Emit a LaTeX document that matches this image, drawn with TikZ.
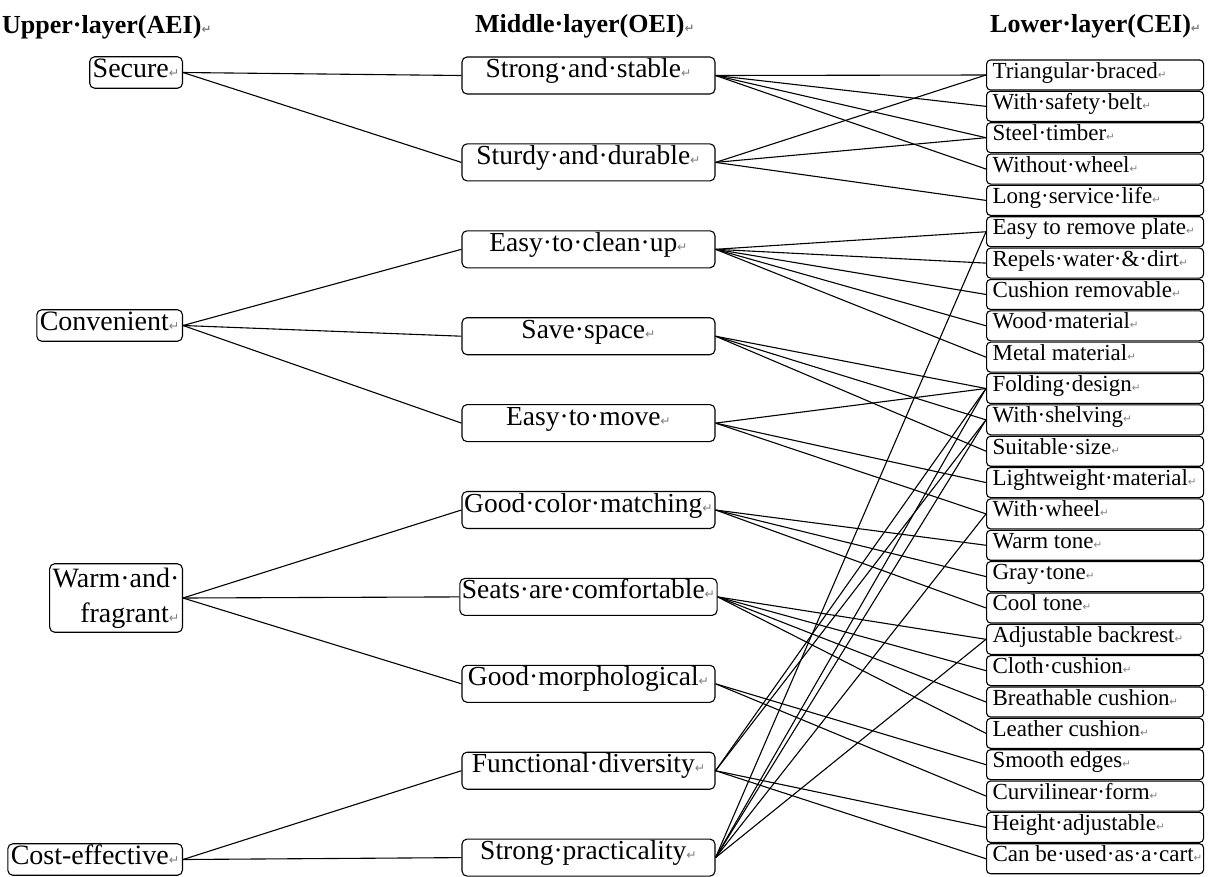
\documentclass[tikz,border=0pt]{standalone}
\usepackage{fontspec}
\setmainfont{Liberation Serif}
\newfontfamily\symfont{DejaVu Sans}
\newcommand\ret{{\symfont\color{gray}\scalebox{0.45}{↵}}}
\newcommand\ltxt[1]{\makebox[205pt][l]{#1\ret}}
\begin{document}
\begin{tikzpicture}[x=1pt,y=-1pt,
  ubox/.style={draw, line width=1.1pt, rounded corners=5pt, font=\fontsize{28}{35}\selectfont, inner xsep=3pt, inner ysep=2pt, anchor=east},
  usingle/.style={ubox, text height=18.5pt, text depth=9pt},
  mbox/.style={draw, line width=1.1pt, rounded corners=5pt, font=\fontsize{27.5}{33}\selectfont, minimum width=253pt, inner xsep=2pt, inner ysep=1.5pt, text height=19pt, text depth=15pt},
  lbox/.style={draw, line width=1.1pt, rounded corners=4pt, font=\fontsize{23}{27}\selectfont, minimum width=217pt, inner xsep=5pt, inner ysep=2pt, text height=16pt, text depth=10pt, anchor=west},
  hdr/.style={font=\bfseries\fontsize{26}{30}\selectfont, inner sep=0pt, anchor=base west},
  link/.style={line width=1.1pt}]
\useasboundingbox (0,0) rectangle (1229,876);

% headers
\node[hdr] (h1) at (2,33) {Upper·layer(AEI)\ret};
\node[hdr] (h2) at (475,32) {Middle·layer(OEI)\ret};
\node[hdr] (h3) at (990,32) {Lower·layer(CEI)\ret};

% upper layer
\node[usingle] (u1) at (183,72.5) {Secure\ret};
\node[usingle] (u2) at (183,325.5) {Convenient\ret};
\node[ubox, align=right, inner ysep=4pt] (u3) at (183,598) {Warm·and·\\fragrant\ret};
\node[usingle] (u4) at (183,859.5) {Cost-effective\ret};

% middle layer
\node[mbox] (m1) at (588.5,75.5) {Strong·and·stable\ret};
\node[mbox] (m2) at (588.5,162.4) {Sturdy·and·durable\ret};
\node[mbox] (m3) at (588.5,249.3) {Easy·to·clean·up\ret};
\node[mbox] (m4) at (588.5,336.2) {Save·space\ret};
\node[mbox] (m5) at (588.5,423.1) {Easy·to·move\ret};
\node[mbox] (m6) at (588.5,510) {Good·color·matching\ret};
\node[mbox] (m7) at (588.5,596.9) {Seats·are·comfortable\ret};
\node[mbox] (m8) at (588.5,683.8) {Good·morphological\ret};
\node[mbox] (m9) at (588.5,770.7) {Functional·diversity\ret};
\node[mbox] (m10) at (588.5,857.6) {Strong·practicality\ret};

% lower layer
\node[lbox] (l0) at (986,75) {\ltxt{Triangular·braced}};
\node[lbox] (l1) at (986,106.35) {\ltxt{With·safety·belt}};
\node[lbox] (l2) at (986,137.7) {\ltxt{Steel·timber}};
\node[lbox] (l3) at (986,169.05) {\ltxt{Without·wheel}};
\node[lbox] (l4) at (986,200.4) {\ltxt{Long·service·life}};
\node[lbox] (l5) at (986,231.75) {\ltxt{Easy to remove plate}};
\node[lbox] (l6) at (986,263.1) {\ltxt{Repels·water·\&·dirt}};
\node[lbox] (l7) at (986,294.45) {\ltxt{Cushion removable}};
\node[lbox] (l8) at (986,325.8) {\ltxt{Wood·material}};
\node[lbox] (l9) at (986,357.15) {\ltxt{Metal material}};
\node[lbox] (l10) at (986,388.5) {\ltxt{Folding·design}};
\node[lbox] (l11) at (986,419.85) {\ltxt{With·shelving}};
\node[lbox] (l12) at (986,451.2) {\ltxt{Suitable·size}};
\node[lbox] (l13) at (986,482.55) {\ltxt{Lightweight·material}};
\node[lbox] (l14) at (986,513.9) {\ltxt{With·wheel}};
\node[lbox] (l15) at (986,545.25) {\ltxt{Warm tone}};
\node[lbox] (l16) at (986,576.6) {\ltxt{Gray·tone}};
\node[lbox] (l17) at (986,607.95) {\ltxt{Cool tone}};
\node[lbox] (l18) at (986,639.3) {\ltxt{Adjustable backrest}};
\node[lbox] (l19) at (986,670.65) {\ltxt{Cloth·cushion}};
\node[lbox] (l20) at (986,702) {\ltxt{Breathable cushion}};
\node[lbox] (l21) at (986,733.35) {\ltxt{Leather cushion}};
\node[lbox] (l22) at (986,764.7) {\ltxt{Smooth edges}};
\node[lbox] (l23) at (986,796.05) {\ltxt{Curvilinear·form}};
\node[lbox] (l24) at (986,827.4) {\ltxt{Height·adjustable}};
\node[lbox] (l25) at (986,858.75) {\ltxt{Can be·used·as·a·cart}};

% upper -> middle
\foreach \a/\b in {u1/m1,u1/m2,u2/m3,u2/m4,u2/m5,u3/m6,u3/m7,u3/m8,u4/m9,u4/m10}
  \draw[link] (\a.east) -- (\b.west);

% middle -> lower
\foreach \a/\b in {m1/l0,m1/l1,m1/l2,m1/l3,
                   m2/l0,m2/l2,m2/l4,
                   m3/l5,m3/l6,m3/l7,m3/l8,m3/l9,
                   m4/l10,m4/l11,m4/l12,
                   m5/l10,m5/l13,m5/l14,
                   m6/l15,m6/l16,m6/l17,
                   m7/l18,m7/l19,m7/l20,m7/l21,
                   m8/l22,m8/l23,
                   m9/l10,m9/l11,m9/l24,m9/l25,
                   m10/l5,m10/l10,m10/l11,m10/l14,m10/l18}
  \draw[link] (\a.east) -- (\b.west);
\end{tikzpicture}
\end{document}
